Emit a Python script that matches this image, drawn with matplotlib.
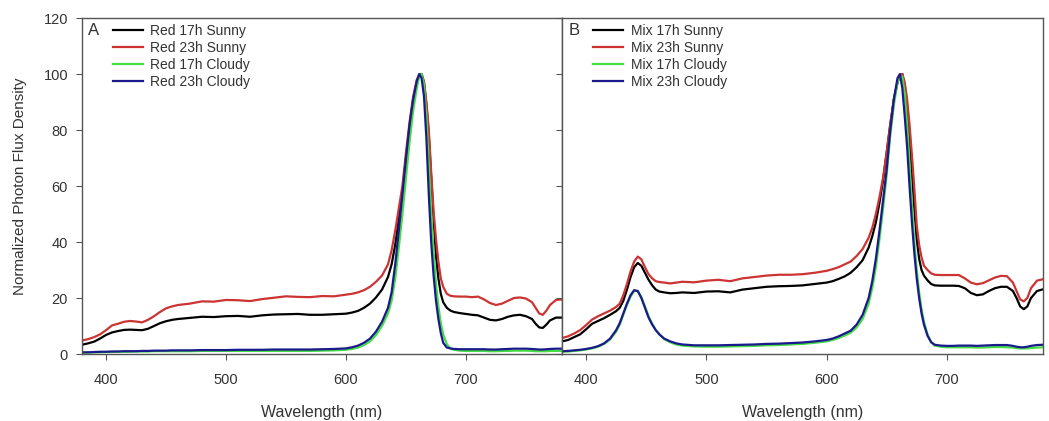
import matplotlib
matplotlib.use("Agg")
import matplotlib.pyplot as plt

plt.rcParams['font.family'] = ['Liberation Sans', 'DejaVu Sans']

# ---------------- Panel A (Red) ----------------
wl_A = [380, 385, 390, 395, 400, 405, 410, 415, 420, 425,
        430, 435, 440, 445, 450, 455, 460, 470, 480, 490,
        500, 510, 520, 530, 540, 550, 560, 570, 580, 590,
        600, 605, 610, 615, 620, 625, 630, 635, 638, 641,
        644, 647, 650, 653, 656, 659, 661, 663, 665, 667,
        669, 671, 673, 675, 677, 679, 681, 684, 687, 690,
        695, 700, 705, 710, 715, 720, 725, 730, 735, 740,
        745, 750, 755, 758, 761, 764, 767, 770, 775, 780]

red17_sunny = [3.3, 3.8, 4.4, 5.5, 6.8, 7.7, 8.2, 8.6, 8.7, 8.6,
               8.5, 9.0, 10.0, 11.0, 11.7, 12.2, 12.5, 12.9, 13.3, 13.2,
               13.5, 13.6, 13.3, 13.8, 14.1, 14.2, 14.3, 14.0, 14.0, 14.2,
               14.4, 14.8, 15.4, 16.5, 18.0, 20.2, 23.0, 27.5, 32.0, 39.0,
               48.0, 58.0, 70.0, 81.0, 91.0, 97.0, 99.5, 100.0, 97.0, 89.0,
               78.0, 63.0, 48.0, 35.0, 27.0, 21.5, 18.5, 16.5, 15.5, 15.0,
               14.6, 14.3, 14.0, 13.8, 13.0, 12.2, 12.0, 12.5, 13.3, 13.8,
               14.0, 13.5, 12.5, 10.8, 9.5, 9.3, 10.5, 12.0, 13.0, 13.0]

red23_sunny = [4.8, 5.3, 6.0, 7.0, 8.5, 10.2, 10.8, 11.5, 11.8, 11.6,
               11.3, 12.2, 13.5, 15.0, 16.3, 17.0, 17.5, 18.0, 18.8, 18.7,
               19.3, 19.2, 18.9, 19.6, 20.1, 20.6, 20.4, 20.3, 20.7, 20.6,
               21.2, 21.5, 22.0, 22.8, 24.0, 25.8, 28.0, 32.0, 37.0, 44.0,
               52.0, 60.0, 72.0, 83.0, 92.0, 98.0, 99.5, 100.0, 97.0, 90.0,
               80.0, 65.0, 51.0, 41.0, 33.0, 27.0, 24.0, 21.5, 20.8, 20.6,
               20.5, 20.5, 20.3, 20.5, 19.5, 18.2, 17.5, 18.0, 19.0, 20.0,
               20.2, 19.8, 18.5, 16.5, 14.5, 14.0, 15.5, 17.5, 19.3, 19.5]

red17_cloudy = [0.5, 0.5, 0.6, 0.6, 0.7, 0.7, 0.8, 0.8, 0.8, 0.9,
                0.9, 0.9, 1.0, 1.0, 1.0, 1.0, 1.0, 1.0, 1.1, 1.1,
                1.1, 1.1, 1.1, 1.1, 1.1, 1.1, 1.1, 1.1, 1.2, 1.3,
                1.5, 1.8, 2.3, 3.2, 4.5, 6.8, 10.0, 14.5, 19.0, 27.0,
                38.0, 50.0, 63.0, 76.0, 87.0, 95.0, 99.0, 100.0, 96.0, 85.0,
                68.0, 50.0, 36.0, 25.0, 17.0, 11.0, 7.0, 3.5, 2.0, 1.5,
                1.2, 1.1, 1.1, 1.1, 1.1, 1.0, 1.0, 1.1, 1.1, 1.2,
                1.2, 1.2, 1.1, 1.0, 1.0, 1.0, 1.0, 1.1, 1.1, 1.1]

red23_cloudy = [0.6, 0.6, 0.7, 0.8, 0.8, 0.9, 0.9, 1.0, 1.0, 1.0,
                1.1, 1.1, 1.2, 1.2, 1.2, 1.3, 1.3, 1.3, 1.4, 1.4,
                1.4, 1.5, 1.5, 1.5, 1.6, 1.6, 1.6, 1.6, 1.7, 1.8,
                2.0, 2.4, 3.0, 4.0, 5.5, 8.0, 11.5, 16.5, 22.0, 32.0,
                44.0, 57.0, 70.0, 82.0, 91.0, 97.5, 100.0, 98.5, 92.0, 77.0,
                57.0, 40.0, 28.0, 19.0, 12.5, 7.5, 4.0, 2.3, 2.0, 1.8,
                1.7, 1.7, 1.7, 1.7, 1.7, 1.6, 1.6, 1.7, 1.8, 1.9,
                1.9, 1.9, 1.8, 1.7, 1.6, 1.6, 1.7, 1.8, 1.9, 1.9]

# ---------------- Panel B (Mix) ----------------
wl_B = [380, 385, 390, 395, 400, 405, 410, 415, 420, 425,
        428, 431, 434, 437, 440, 443, 446, 449, 452, 455,
        458, 461, 465, 470, 475, 480, 490, 500, 510, 520,
        530, 540, 550, 560, 570, 580, 590, 600, 605, 610,
        615, 620, 625, 630, 635, 638, 641, 644, 647, 650,
        653, 656, 659, 661, 663, 665, 667, 669, 671, 673,
        675, 677, 679, 681, 684, 687, 690, 695, 700, 705,
        710, 715, 720, 725, 730, 735, 740, 745, 750, 755,
        758, 761, 764, 767, 770, 775, 780]

mix17_sunny = [4.5, 5.0, 6.0, 7.0, 8.8, 10.8, 11.8, 12.8, 14.0, 15.3,
               16.5, 19.0, 23.0, 27.5, 31.0, 32.5, 31.5, 29.0, 26.5, 24.5,
               23.0, 22.3, 22.0, 21.7, 21.8, 22.0, 21.8, 22.3, 22.4, 22.0,
               23.0, 23.5, 24.0, 24.2, 24.3, 24.5, 25.0, 25.5, 26.0, 26.8,
               27.7, 29.0, 31.0, 33.5, 38.0, 42.0, 47.0, 54.0, 62.0, 72.0,
               82.0, 91.0, 97.0, 99.5, 100.0, 96.0, 88.0, 77.0, 64.0, 52.0,
               41.0, 34.0, 30.0, 28.0, 26.3, 25.0, 24.5, 24.4, 24.4, 24.4,
               24.3, 23.5, 21.8, 21.0, 21.3, 22.5, 23.5, 24.0, 24.0, 22.5,
               20.0, 17.0, 16.0, 17.0, 20.0, 22.5, 23.1]

mix23_sunny = [5.7, 6.3, 7.3, 8.5, 10.3, 12.3, 13.5, 14.5, 15.5, 16.8,
               18.0, 21.0, 25.0, 29.5, 33.0, 34.8, 33.8, 31.0, 28.5, 27.0,
               26.0, 25.7, 25.5, 25.2, 25.5, 25.8, 25.6, 26.2, 26.5, 26.0,
               27.0, 27.5, 28.0, 28.3, 28.3, 28.5, 29.0, 29.7, 30.3, 31.0,
               32.0, 33.0, 35.0, 37.5, 41.5, 45.0, 50.0, 56.0, 63.0, 72.0,
               82.0, 91.0, 97.0, 99.5, 100.0, 97.0, 91.0, 82.0, 71.0, 59.0,
               46.0, 39.0, 34.5, 31.5, 30.0, 28.8, 28.3, 28.2, 28.2, 28.2,
               28.2, 27.0, 25.5, 24.9, 25.3, 26.3, 27.3, 27.9, 27.8, 25.5,
               22.5, 19.5, 18.8, 20.0, 23.5, 26.2, 26.7]

mix17_cloudy = [0.8, 0.9, 1.1, 1.3, 1.6, 2.0, 2.6, 3.6, 5.2, 8.0,
                10.5, 14.0, 17.5, 20.5, 22.5, 22.5, 20.3, 17.0, 13.5, 10.8,
                8.6, 7.0, 5.3, 4.2, 3.4, 3.0, 2.7, 2.6, 2.6, 2.7,
                2.8, 2.9, 3.1, 3.2, 3.4, 3.6, 4.0, 4.5, 5.0, 5.7,
                6.6, 7.6, 9.5, 12.5, 18.0, 23.5, 31.0, 41.0, 52.0, 64.0,
                78.0, 89.0, 97.0, 99.5, 99.0, 93.0, 82.0, 68.0, 53.0, 40.0,
                30.0, 22.0, 16.0, 11.5, 7.0, 4.2, 3.0, 2.6, 2.4, 2.4,
                2.4, 2.4, 2.4, 2.3, 2.3, 2.4, 2.5, 2.5, 2.4, 2.3,
                2.1, 2.0, 2.0, 2.0, 2.1, 2.3, 2.4]

mix23_cloudy = [1.0, 1.1, 1.3, 1.5, 1.8, 2.2, 2.8, 3.8, 5.5, 8.5,
                11.0, 14.5, 18.0, 21.0, 22.8, 22.5, 20.0, 16.5, 13.0, 10.5,
                8.5, 7.0, 5.5, 4.5, 3.8, 3.4, 3.1, 3.1, 3.1, 3.2,
                3.3, 3.4, 3.6, 3.7, 3.9, 4.1, 4.5, 5.0, 5.5, 6.3,
                7.3, 8.3, 10.5, 14.0, 20.0, 26.0, 34.0, 44.0, 55.0, 66.0,
                80.0, 91.0, 98.5, 100.0, 95.0, 85.0, 74.0, 60.0, 47.0, 36.0,
                27.0, 20.0, 14.5, 10.5, 6.5, 4.2, 3.3, 3.0, 2.9, 2.9,
                3.0, 3.0, 3.0, 2.9, 3.0, 3.1, 3.2, 3.2, 3.2, 2.9,
                2.6, 2.4, 2.4, 2.6, 2.9, 3.2, 3.3]

labels_A = ["Red 17h Sunny", "Red 23h Sunny", "Red 17h Cloudy", "Red 23h Cloudy"]
labels_B = ["Mix 17h Sunny", "Mix 23h Sunny", "Mix 17h Cloudy", "Mix 23h Cloudy"]
colors = ["#000000", "#cc3333", "#44dd44", "#1a1a8c"]

xticks = [400, 500, 600, 700]
yticks = [0, 20, 40, 60, 80, 100, 120]

W, H = 1049, 421
fig = plt.figure(figsize=(W / 100, H / 100), dpi=100)
x0, xm, x1 = 82, 562, 1043
ytop, ybot = 18, 354
axA = fig.add_axes([x0 / W, 1 - ybot / H, (xm - x0) / W, (ybot - ytop) / H])
axB = fig.add_axes([xm / W, 1 - ybot / H, (x1 - xm) / W, (ybot - ytop) / H])

spine_col = "#555555"
text_col = "#333333"

for ax, wl, series, labels, letter in [
        (axA, wl_A, [red17_sunny, red23_sunny, red17_cloudy, red23_cloudy], labels_A, "A"),
        (axB, wl_B, [mix17_sunny, mix23_sunny, mix17_cloudy, mix23_cloudy], labels_B, "B")]:
    for vals, lab, c in zip(series, labels, colors):
        ax.plot(wl, vals, color=c, lw=1.6, label=lab)
    ax.set_xlim(380, 780)
    ax.set_ylim(0, 120)
    ax.set_xticks(xticks)
    ax.set_yticks(yticks)
    ax.tick_params(direction="out", length=4, width=0.8, color=spine_col,
                   labelsize=10.5, labelcolor=text_col)
    ax.tick_params(axis="x", pad=9.5)
    ax.tick_params(axis="y", pad=6)
    for s in ax.spines.values():
        s.set_color(spine_col)
        s.set_linewidth(1.0)
    ax.set_xlabel("Wavelength (nm)", fontsize=11.5, color=text_col, labelpad=13)
    leg = ax.legend(loc="upper left", bbox_to_anchor=(0.064, 0.982), frameon=False,
                    fontsize=10, handlelength=2.15, handletextpad=0.57,
                    labelspacing=0.22, borderpad=0, borderaxespad=0)
    for t in leg.get_texts():
        t.set_color(text_col)
    ax.text(0.013, 0.963, letter, transform=ax.transAxes, ha="left", va="center",
            fontsize=12, color=text_col)

axB.tick_params(labelleft=False)
axA.set_ylabel("Normalized Photon Flux Density", fontsize=11, color=text_col, labelpad=12)

fig.savefig("out.png", dpi=100)
